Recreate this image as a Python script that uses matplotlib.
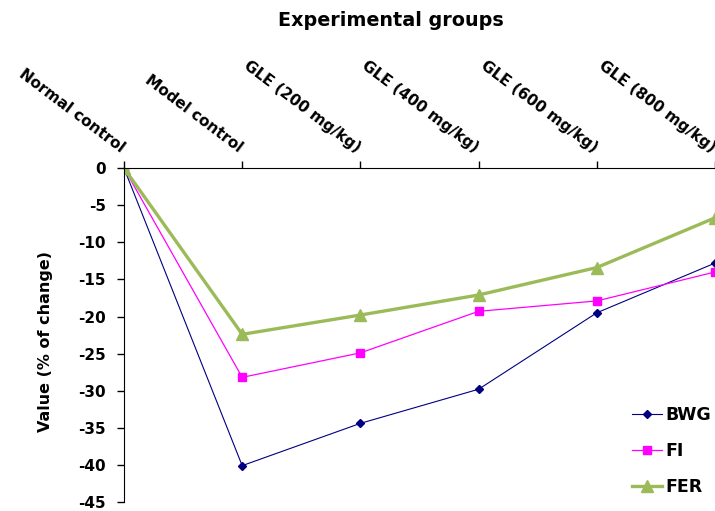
import numpy as np
import matplotlib.pyplot as plt

plt.rcParams['font.family'] = ['DejaVu Sans']
plt.rcParams['font.weight'] = 'bold'

# groups on the top axis
groups = ["Normal control", "Model control", "GLE (200 mg/kg)",
          "GLE (400 mg/kg)", "GLE (600 mg/kg)", "GLE (800 mg/kg)"]
# % change values
bwg = [0, -40.1, -34.4, -29.8, -19.5, -12.8]
fi = [0, -28.2, -24.9, -19.3, -17.9, -14.0]
fer = [0, -22.4, -19.8, -17.1, -13.4, -6.7]
yticks = [0, -5, -10, -15, -20, -25, -30, -35, -40, -45]

fig = plt.figure(figsize=(7.15, 5.11), dpi=100)
ax = fig.add_axes([0.1734, 0.0176, 1.0 - 0.1734, 0.671 - 0.0176])

x = np.arange(len(groups))
ax.plot(x, bwg, color='#000080', lw=0.8, marker='D', ms=4, label='BWG')
ax.plot(x, fi, color='#FF00FF', lw=0.9, marker='s', ms=6, label='FI')
ax.plot(x, fer, color='#9BBB59', lw=2.4, marker='^', ms=8, label='FER')

ax.set_xlim(0, 5)
ax.set_ylim(-45, 0)
ax.set_yticks(yticks)
ax.set_yticklabels([str(v) for v in yticks], fontsize=11, fontweight='bold')
ax.tick_params(axis='y', direction='out', length=5, width=1, pad=8)

# x axis on top, labels drawn by hand rotated
ax.xaxis.set_ticks_position('top')
ax.set_xticks(x)
ax.set_xticklabels([])
ax.tick_params(axis='x', direction='out', length=5, width=1)
for i, g in enumerate(groups):
    ax.annotate(g, xy=(i, 0), xycoords='data', xytext=(-3, 11), textcoords='offset points',
                rotation=-37, rotation_mode='anchor', ha='right', va='baseline',
                fontsize=11, fontweight='bold', annotation_clip=False)

ax.spines['right'].set_visible(False)
ax.spines['bottom'].set_visible(False)

fig.text(0.547, 0.959, "Experimental groups", ha='center', va='center',
         fontsize=13.8, fontweight='bold')
ax.set_ylabel("Value (% of change)", fontsize=11.5, fontweight='bold')
ax.yaxis.set_label_coords(-0.12, 0.482)

ax.legend(loc='lower right', bbox_to_anchor=(1.02, -0.03), frameon=False,
          fontsize=12.5, handlelength=1.75, labelspacing=1.05, handletextpad=0.2)

fig.savefig("out.png", dpi=100)
